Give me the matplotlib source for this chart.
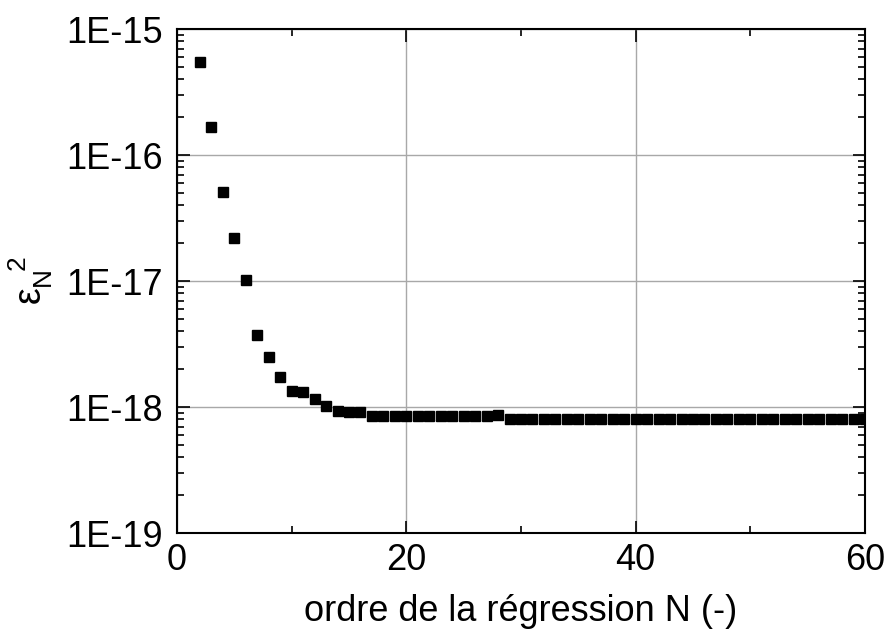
import matplotlib
matplotlib.use('Agg')
import matplotlib.pyplot as plt
from matplotlib.ticker import LogLocator, MultipleLocator, FixedLocator, NullFormatter

plt.rcParams['font.family'] = ['Liberation Sans', 'DejaVu Sans']
plt.rcParams['mathtext.fontset'] = 'custom'
plt.rcParams['mathtext.rm'] = 'Liberation Sans'
plt.rcParams['mathtext.it'] = 'Liberation Sans'

# Data
order_n = list(range(2, 61))
eps_head = [5.5e-16, 1.68e-16, 5.1e-17, 2.2e-17, 1.02e-17, 3.7e-18, 2.5e-18,
            1.74e-18, 1.34e-18, 1.31e-18, 1.15e-18, 1.02e-18, 0.93e-18,
            0.92e-18, 0.91e-18]
eps_mid = [0.845e-18] * 11          # N = 17 .. 27
eps_28 = [0.87e-18]                 # N = 28
eps_tail = [0.81e-18] * 32          # N = 29 .. 60
eps2 = eps_head + eps_mid + eps_28 + eps_tail

y_ticks = [1e-19, 1e-18, 1e-17, 1e-16, 1e-15]
y_labels = ['1E-19', '1E-18', '1E-17', '1E-16', '1E-15']
x_ticks = [0, 20, 40, 60]

fig = plt.figure(figsize=(8.88, 6.31), dpi=100)
ax = fig.add_axes([0.1993, 0.1553, 0.7748, 0.7987])

ax.plot(order_n, eps2, 's', color='black', markersize=6.5, zorder=3)

ax.set_yscale('log')
ax.set_xlim(0, 60)
ax.set_ylim(1e-19, 1e-15)

ax.yaxis.set_major_locator(FixedLocator(y_ticks))
ax.set_yticklabels(y_labels)
ax.yaxis.set_minor_locator(LogLocator(base=10, subs=range(2, 10)))
ax.yaxis.set_minor_formatter(NullFormatter())
ax.set_xticks(x_ticks)
ax.xaxis.set_minor_locator(MultipleLocator(10))

ax.grid(True, which='major', color='#a8a8a8', linewidth=1)
ax.set_axisbelow(True)

ax.tick_params(which='both', direction='in', top=True, right=True, width=1.2)
ax.tick_params(which='major', length=9, labelsize=26)
ax.tick_params(which='minor', length=5)
ax.tick_params(axis='x', which='major', pad=7)
ax.tick_params(axis='y', which='major', pad=10)

for s in ax.spines.values():
    s.set_linewidth(1.5)

ax.set_xlabel('ordre de la régression N (-)', fontsize=26, labelpad=12)
ax.set_ylabel(r'$\varepsilon_N^{\ \ 2}$', fontsize=27, labelpad=8)

fig.savefig('out.png', dpi=100)
